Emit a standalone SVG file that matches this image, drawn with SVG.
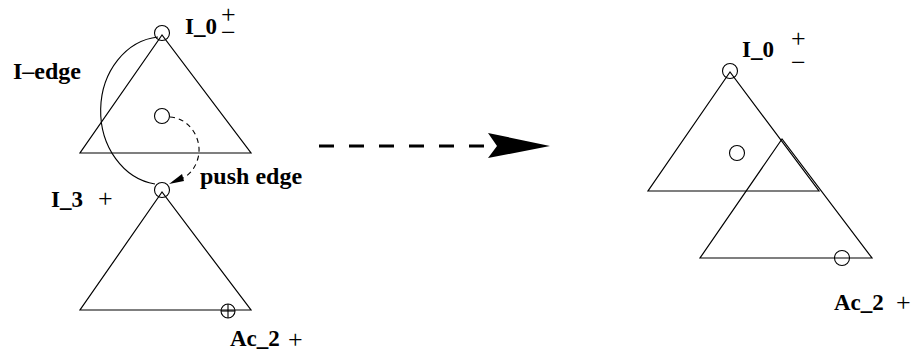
<svg xmlns="http://www.w3.org/2000/svg" width="917" height="353" viewBox="0 0 917 353">
<style>
.tri{fill:none;stroke:#000;stroke-width:1.2}
.c{fill:none;stroke:#000;stroke-width:1.1}
.lb{font-family:"Liberation Serif","Times New Roman",serif;font-weight:bold;font-size:23px;fill:#000}
.el{font-family:"Liberation Serif","Times New Roman",serif;font-weight:bold;font-size:24px;fill:#000}
.sg{font-family:"Liberation Serif","Times New Roman",serif;font-size:26px;fill:#000}
</style>
<rect width="917" height="353" fill="#fff"/>
<g id="tree-I0-left">
  <polygon class="tri" points="162,35 80,153 251,153"/>
  <circle class="c" cx="162" cy="33" r="7.5"/>
  <circle class="c" cx="162" cy="116" r="7.5"/>
  <text class="lb" x="185" y="34">I_0</text>
  <text class="sg"><tspan x="221" y="23">+</tspan><tspan x="221" y="41">−</tspan></text>
</g>
<g id="tree-I3-left">
  <polygon class="tri" points="162,192 80,310 251,310"/>
  <circle class="c" cx="162" cy="190" r="7.5"/>
  <circle class="c" cx="228" cy="311" r="7"/>
  <line class="c" x1="228" y1="304" x2="228" y2="318"/>
  <line class="c" x1="221" y1="311" x2="235" y2="311"/>
  <text class="lb" x="51" y="207">I_3</text>
  <text class="sg" x="98" y="207">+</text>
  <text class="lb" x="230" y="346">Ac_2</text>
  <text class="sg" x="288" y="348">+</text>
</g>
<g id="tree-merged-right">
  <polygon class="tri" points="730,72 648,191 819,191"/>
  <polygon class="tri" points="782,139 700,258 872,258"/>
  <circle class="c" cx="730" cy="71" r="7.5"/>
  <circle class="c" cx="737" cy="153" r="7.5"/>
  <circle class="c" cx="842" cy="258" r="7.5"/>
  <text class="lb" x="742" y="57">I_0</text>
  <text class="sg"><tspan x="791" y="47">+</tspan><tspan x="791" y="71">−</tspan></text>
  <text class="lb" x="834" y="310">Ac_2</text>
  <text class="sg" x="896" y="311">+</text>
</g>
<g id="connectors">
  <path d="M158,37 A63,74 0 0 0 155,184" fill="none" stroke="#000" stroke-width="1.1"/>
  <text class="el" x="13" y="79">I–edge</text>
  <path d="M170,117 C190,118 203,140 198,158 C195,170 187,177 179,180" fill="none" stroke="#000" stroke-width="1.1" stroke-dasharray="5,4"/>
  <polygon points="169,184 182,174 184,181" fill="#000"/>
  <text class="el" x="200" y="184">push edge</text>
  <line x1="319" y1="146" x2="490" y2="146" stroke="#000" stroke-width="3" stroke-dasharray="15,15"/>
  <polygon points="550,146 488,133 497,146 488,158" fill="#000"/>
</g>
</svg>
